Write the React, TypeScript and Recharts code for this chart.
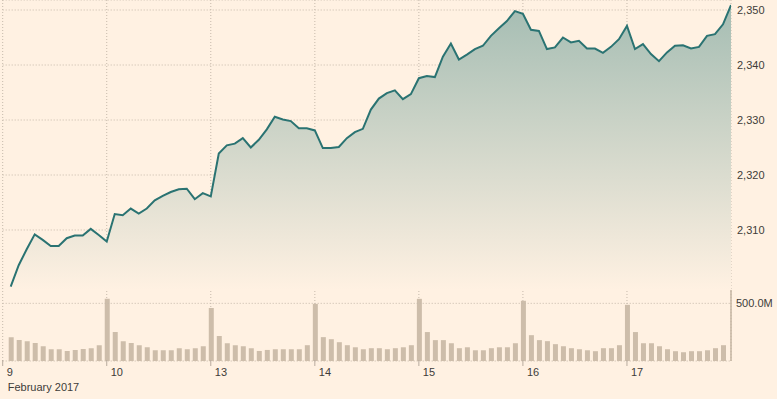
import React from 'react';
import {
  ComposedChart,
  Area,
  Bar,
  XAxis,
  YAxis,
  CartesianGrid,
  ReferenceLine,
} from 'recharts';

// Half-hour slots: 13 per trading day, slot 0 = open of 9 Feb
const dayTicks = [0, 13, 26, 39, 52, 65, 78];
const dayLabels = ['9', '10', '13', '14', '15', '16', '17'];
const priceTicks = [2310, 2320, 2330, 2340, 2350];

// Index level at end of each half-hour slot (slots 1..91)
const prices = [
  2299.7, 2303.6, 2306.5, 2309.2, 2308.2, 2307.1, 2307.1, 2308.5, 2309.0, 2309.0, 2310.2, 2309.1,
  2307.9, 2312.9, 2312.7, 2313.9, 2313.0, 2313.9, 2315.4, 2316.2, 2316.9, 2317.4, 2317.5, 2315.6, 2316.7,
  2316.1, 2323.9, 2325.4, 2325.7, 2326.7, 2325.0, 2326.4, 2328.3, 2330.6, 2330.1, 2329.8, 2328.5, 2328.5,
  2328.1, 2324.9, 2324.9, 2325.1, 2326.7, 2327.8, 2328.4, 2331.9, 2333.9, 2334.9, 2335.4, 2333.8, 2334.7,
  2337.6, 2338.0, 2337.8, 2341.5, 2343.9, 2341.0, 2341.9, 2342.9, 2343.5, 2345.3, 2346.7, 2348.0, 2349.8,
  2349.3, 2346.4, 2346.2, 2342.9, 2343.2, 2345.0, 2344.1, 2344.4, 2343.0, 2343.0, 2342.2, 2343.3, 2344.7,
  2347.1, 2342.9, 2343.8, 2342.0, 2340.7, 2342.3, 2343.5, 2343.6, 2343.0, 2343.3, 2345.3, 2345.6, 2347.4,
  2350.9,
];

// Volume in millions for slots 1..90
const volumes = [
  207, 181, 172, 157, 128, 102, 102, 87, 96, 105, 111, 137,
  539, 251, 172, 157, 137, 119, 93, 93, 93, 111, 102, 111, 128,
  460, 216, 154, 137, 128, 111, 87, 96, 102, 102, 102, 102, 137,
  495, 207, 189, 163, 137, 119, 102, 111, 111, 102, 111, 119, 137,
  539, 251, 181, 181, 154, 111, 119, 93, 93, 111, 119, 119, 154,
  522, 224, 181, 172, 146, 128, 111, 102, 93, 85, 111, 111, 137,
  487, 251, 154, 154, 128, 102, 85, 76, 85, 85, 93, 111, 137,
];

const rows = prices.map((p, i) => ({
  slot: i + 1,
  price: p,
  vol: i < volumes.length ? volumes[i] : undefined,
}));

const FONT = '"Liberation Sans", Arial, sans-serif';
const TEXT = '#403c39';
const BG = '#fff1e2';
const GRID = '#c6b9ab';

const DayTick = (props: any) => {
  const { x, y, payload, index } = props;
  return (
    <g>
      <line x1={x} y1={y - 1} x2={x} y2={y + 5} stroke="#b8ab9e" strokeWidth={1} />
      <text x={x + 4} y={y + 14.5} fill={TEXT} fontSize={11} fontFamily={FONT}>
        {dayLabels[dayTicks.indexOf(payload.value)] ?? ''}
      </text>
      {index === 0 && (
        <text x={x + 5} y={y + 29.5} fill={TEXT} fontSize={11} fontFamily={FONT}>
          February 2017
        </text>
      )}
    </g>
  );
};

export default function App() {
  return (
    <div style={{ position: 'absolute', left: 0, top: 0, width: 777, height: 399, background: BG }}>
      <ComposedChart
        width={777}
        height={399}
        data={rows}
        margin={{ top: 0, right: 0, bottom: 0, left: 2.7 }}
      >
        <defs>
          <linearGradient id="priceFill" x1="0" y1="0" x2="0" y2="1">
            <stop offset="0%" stopColor="#a5bdb3" stopOpacity={1} />
            <stop offset="100%" stopColor={BG} stopOpacity={1} />
          </linearGradient>
        </defs>
        <CartesianGrid
          yAxisId="price"
          stroke={GRID}
          strokeDasharray="1 2"
          horizontal
          vertical
        />
        <XAxis
          dataKey="slot"
          type="number"
          domain={[0, 91]}
          ticks={dayTicks}
          allowDataOverflow
          axisLine={false}
          tickLine={false}
          tickSize={0}
          tickMargin={0}
          height={38}
          tick={<DayTick />}
          interval={0}
        />
        <YAxis
          yAxisId="price"
          orientation="right"
          type="number"
          domain={[2286.18, 2351.82]}
          ticks={priceTicks}
          allowDataOverflow
          axisLine={false}
          tickLine={false}
          tickSize={6}
          tickMargin={0}
          width={46}
          tick={{ fill: TEXT, fontSize: 11, fontFamily: FONT }}
          tickFormatter={(v: number) => v.toLocaleString('en-US')}
        />
        <YAxis yAxisId="vol" type="number" domain={[0, 3130]} hide allowDataOverflow />
        <ReferenceLine
          yAxisId="vol"
          y={500}
          stroke={GRID}
          strokeDasharray="1 2"
          label={{ value: '500.0M', position: 'right', fill: TEXT, fontSize: 11, fontFamily: FONT, offset: 5 }}
        />
        <Bar
          yAxisId="vol"
          dataKey="vol"
          fill="#cdbdaa"
          barSize={5}
          isAnimationActive={false}
        />
        <ReferenceLine
          yAxisId="vol"
          segment={[{ x: 91, y: 0 }, { x: 91, y: 615 }]}
          stroke="#c4b4a2"
          strokeWidth={1.5}
        />
        <Area
          yAxisId="price"
          dataKey="price"
          type="linear"
          stroke="#2a7372"
          strokeWidth={2}
          fill="url(#priceFill)"
          fillOpacity={1}
          baseValue={2299.1}
          dot={false}
          activeDot={false}
          isAnimationActive={false}
        />
      </ComposedChart>
    </div>
  );
}
